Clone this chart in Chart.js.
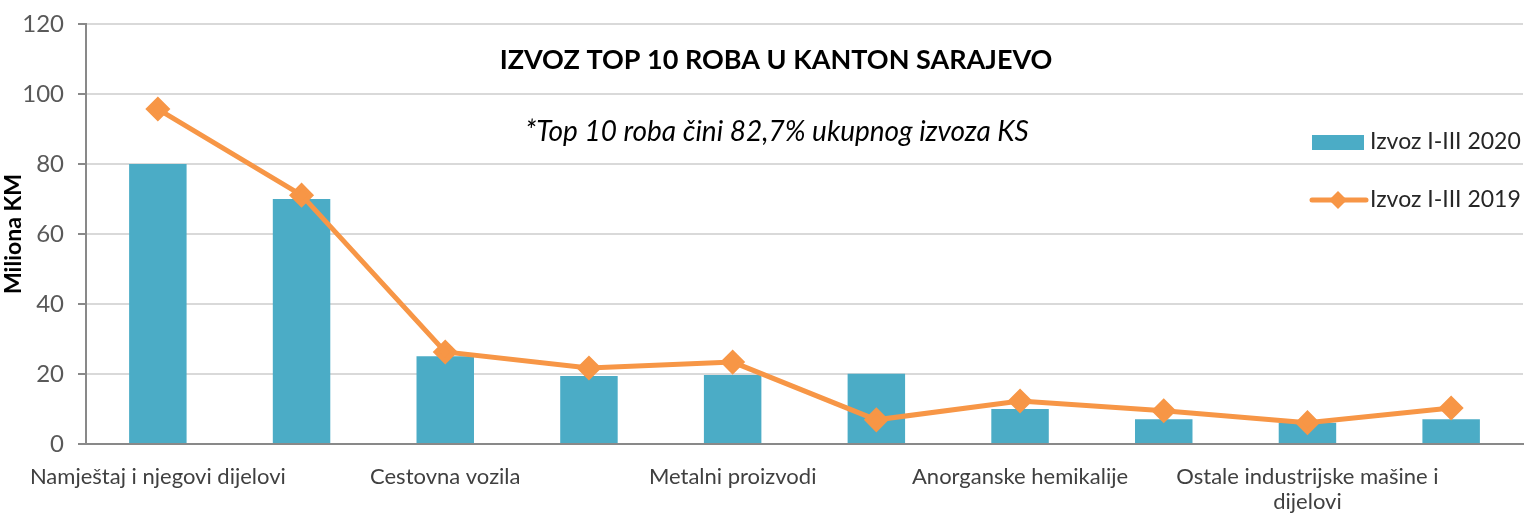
<!DOCTYPE html>
<html>
<head>
<meta charset="utf-8">
<script src="https://cdn.jsdelivr.net/npm/chart.js@4"></script>
<style>
  html, body { margin: 0; padding: 0; background: #fff; overflow: hidden; }
  #wrap { width: 1537px; height: 514px; }
</style>
</head>
<body>
<div id="wrap"><canvas id="exportChart"></canvas></div>
<script>
// categories (only every other name is printed under the axis)
const categories = [
  'Namještaj i njegovi dijelovi',
  'Električne mašine i oprema',
  'Cestovna vozila',
  'Papir i karton',
  'Metalni proizvodi',
  'Obuća',
  'Anorganske hemikalije',
  'Proizvodi od gume',
  ['Ostale industrijske mašine i', 'dijelovi'],
  'Odjeća'
];
const izvoz2020 = [80, 70, 25.1, 19.4, 19.7, 20.1, 10, 7.1, 6.1, 7.1];
const izvoz2019 = [95.7, 71.1, 26.3, 21.7, 23.4, 6.9, 12.3, 9.5, 6.1, 10.3];
const yTicks = [0, 20, 40, 60, 80, 100, 120];

const barColor = '#4BACC6';
const lineColor = '#F79646';
const fontName = 'Lato, "Open Sans", sans-serif';

const overlay = {
  id: 'overlay',
  afterDraw(chart) {
    const ctx = chart.ctx;
    ctx.save();
    ctx.textAlign = 'center';
    ctx.textBaseline = 'middle';
    ctx.fillStyle = '#000';
    ctx.font = 'bold 27px ' + fontName;
    ctx.fillText('IZVOZ TOP 10 ROBA U KANTON SARAJEVO', 776, 60);
    ctx.font = 'italic 28px ' + fontName;
    ctx.fillText('*Top 10 roba čini 82,7% ukupnog izvoza KS', 777, 132);

    // legend
    ctx.textAlign = 'left';
    ctx.font = '23px ' + fontName;
    ctx.fillStyle = barColor;
    ctx.fillRect(1312, 135, 52, 15);
    ctx.fillStyle = '#262626';
    ctx.fillText('Izvoz I-III 2020', 1370, 142);

    ctx.strokeStyle = lineColor;
    ctx.lineWidth = 5;
    ctx.lineCap = 'round';
    ctx.beginPath();
    ctx.moveTo(1312, 200);
    ctx.lineTo(1366, 200);
    ctx.stroke();
    ctx.fillStyle = lineColor;
    ctx.beginPath();
    ctx.moveTo(1338, 191);
    ctx.lineTo(1347, 200);
    ctx.lineTo(1338, 209);
    ctx.lineTo(1329, 200);
    ctx.closePath();
    ctx.fill();
    ctx.fillStyle = '#262626';
    ctx.fillText('Izvoz I-III 2019', 1370, 200);
    ctx.restore();
  }
};

new Chart(document.getElementById('exportChart'), {
  type: 'bar',
  data: {
    labels: categories,
    datasets: [
      {
        type: 'line',
        label: 'Izvoz I-III 2019',
        data: izvoz2019,
        borderColor: lineColor,
        backgroundColor: lineColor,
        borderWidth: 5,
        pointStyle: 'rectRot',
        pointRadius: 9,
        pointBackgroundColor: lineColor,
        pointBorderColor: lineColor,
        tension: 0,
        order: 0
      },
      {
        label: 'Izvoz I-III 2020',
        data: izvoz2020,
        backgroundColor: barColor,
        categoryPercentage: 0.4,
        barPercentage: 1,
        order: 1
      }
    ]
  },
  options: {
    responsive: true,
    maintainAspectRatio: false,
    animation: false,
    layout: { padding: { top: 24, right: 0, bottom: 0, left: 0 } },
    plugins: {
      legend: { display: false },
      tooltip: { enabled: false }
    },
    scales: {
      x: {
        grid: { display: false },
        border: { color: '#898989', width: 2 },
        ticks: {
          autoSkip: false,
          maxRotation: 0,
          padding: 12,
          color: '#404040',
          font: { family: fontName, size: 22, lineHeight: 1.15 },
          callback: function(value, index) {
            return index % 2 === 0 ? categories[index] : '';
          }
        },
        afterFit(scale) { scale.height = 70; }
      },
      y: {
        min: 0,
        max: 120,
        afterBuildTicks(scale) {
          scale.ticks = yTicks.map(v => ({ value: v }));
        },
        grid: { color: '#d9d9d9', lineWidth: 2, tickLength: 8, tickColor: '#898989' },
        border: { color: '#898989', width: 2 },
        ticks: {
          padding: 14,
          color: '#595959',
          font: { family: fontName, size: 24 }
        },
        title: {
          display: true,
          text: 'Miliona KM',
          color: '#000',
          font: { family: fontName, size: 23, weight: 'bold' },
          padding: 0
        },
        afterFit(scale) {
          scale.width = 86;
          scale.paddingTop = 0;
          scale.paddingBottom = 0;
        }
      }
    }
  },
  plugins: [overlay]
});
</script>
</body>
</html>
